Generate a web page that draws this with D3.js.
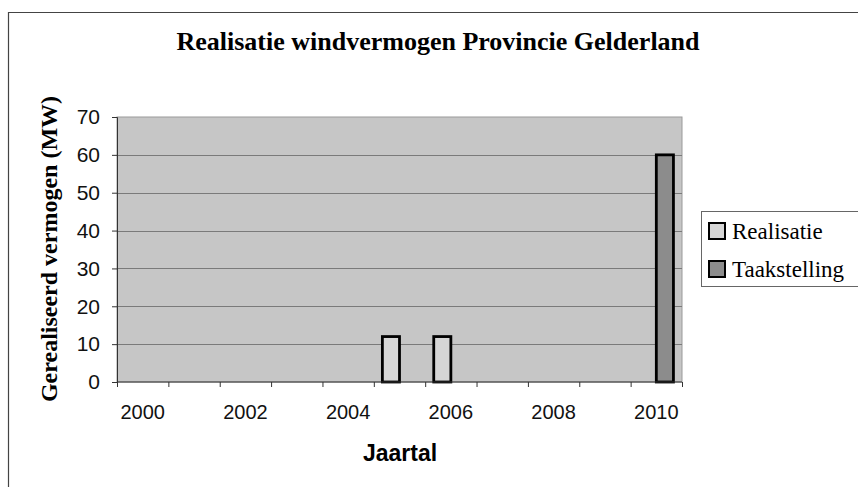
<!DOCTYPE html>
<html>
<head>
<meta charset="utf-8">
<script src="https://cdn.jsdelivr.net/npm/d3@7"></script>
<style>
  body { margin: 0; background: #fff; }
  svg { display: block; }
</style>
</head>
<body>
<div id="chart"></div>
<script>
// categories (one per year) and the two series, null = no bar
const years = ["2000","2001","2002","2003","2004","2005","2006","2007","2008","2009","2010"];
const realisatie   = [null, null, null, null, null, 12, 12, null, null, null, null];
const taakstelling = [null, null, null, null, null, null, null, null, null, null, 60];
const seriesNames = ["Realisatie", "Taakstelling"];
const seriesFill = ["#d6d6d6", "#8c8c8c"];
const yTicks = [0, 10, 20, 30, 40, 50, 60, 70];
const xLabels = ["2000", "2002", "2004", "2006", "2008", "2010"];

const W = 858, H = 487;
const plot = {left: 117, right: 682, top: 117, bottom: 382};

const svg = d3.select("#chart").append("svg")
  .attr("width", W)
  .attr("height", H);

// outer chart border (only left and top are visible in the scan)
svg.append("path")
  .attr("d", `M8.5,${H} V12.5 H${W}`)
  .attr("fill", "none")
  .attr("stroke", "#444")
  .attr("stroke-width", 1.2);

// title
svg.append("text")
  .attr("x", 438)
  .attr("y", 50)
  .attr("text-anchor", "middle")
  .attr("font-family", "Liberation Serif, Times New Roman, serif")
  .attr("font-weight", "bold")
  .attr("font-size", 26)
  .text("Realisatie windvermogen Provincie Gelderland");

const x0 = d3.scaleBand()
  .domain(years)
  .range([plot.left, plot.right])
  .padding(0);

// gap width 100% -> each bar a third of the category
const x1 = d3.scaleBand()
  .domain(seriesNames)
  .range([x0.bandwidth() / 6, x0.bandwidth() * 5 / 6]);

const y = d3.scaleLinear()
  .domain([0, 70])
  .range([plot.bottom, plot.top]);

// plot area background
svg.append("rect")
  .attr("x", plot.left)
  .attr("y", plot.top)
  .attr("width", plot.right - plot.left)
  .attr("height", plot.bottom - plot.top)
  .attr("fill", "#c6c6c6")
  .attr("stroke", "#9a9a9a");

// horizontal gridlines
svg.append("g")
  .selectAll("line")
  .data(yTicks.filter(d => d > 0 && d < 70))
  .join("line")
  .attr("x1", plot.left)
  .attr("x2", plot.right)
  .attr("y1", d => Math.round(y(d)) + 0.5)
  .attr("y2", d => Math.round(y(d)) + 0.5)
  .attr("stroke", "#7a7a7a")
  .attr("stroke-width", 1.2);

// bars
const rows = years.map((yr, i) => ({year: yr, values: [realisatie[i], taakstelling[i]]}));
const bars = [];
rows.forEach(r => {
  r.values.forEach((v, j) => {
    if (v != null) bars.push({year: r.year, series: seriesNames[j], idx: j, value: v});
  });
});

svg.append("g")
  .selectAll("rect")
  .data(bars)
  .join("rect")
  .attr("x", d => x0(d.year) + x1(d.series))
  .attr("y", d => y(d.value))
  .attr("width", x1.bandwidth())
  .attr("height", d => y(0) - y(d.value))
  .attr("fill", d => seriesFill[d.idx])
  .attr("stroke", "#000")
  .attr("stroke-width", 2.8);

// y axis
const yAxis = svg.append("g")
  .attr("transform", `translate(${plot.left},0)`)
  .call(d3.axisLeft(y).tickValues(yTicks).tickSize(5).tickPadding(12));
yAxis.selectAll("text")
  .attr("font-family", "Liberation Sans, Arial, sans-serif")
  .attr("font-size", 21)
  .attr("fill", "#111");
yAxis.selectAll("line, path").attr("stroke", "#333");

// x axis: ticks on category boundaries, labels every other year
const xAxis = svg.append("g")
  .attr("transform", `translate(0,${plot.bottom})`);
xAxis.append("line")
  .attr("x1", plot.left)
  .attr("x2", plot.right)
  .attr("stroke", "#333");
xAxis.selectAll("line.tick")
  .data(years.concat(["end"]))
  .join("line")
  .attr("class", "tick")
  .attr("x1", (d, i) => plot.left + i * x0.step() + 0.5)
  .attr("x2", (d, i) => plot.left + i * x0.step() + 0.5)
  .attr("y1", 0)
  .attr("y2", 5)
  .attr("stroke", "#333");
xAxis.selectAll("text")
  .data(xLabels)
  .join("text")
  .attr("x", d => x0(d) + x0.bandwidth() / 2)
  .attr("y", 37)
  .attr("text-anchor", "middle")
  .attr("font-family", "Liberation Sans, Arial, sans-serif")
  .attr("font-size", 20)
  .attr("fill", "#111")
  .text(d => d);

// axis titles
svg.append("text")
  .attr("x", 400)
  .attr("y", 461)
  .attr("text-anchor", "middle")
  .attr("font-family", "Liberation Sans, Arial, sans-serif")
  .attr("font-weight", "bold")
  .attr("font-size", 23)
  .text("Jaartal");

svg.append("text")
  .attr("transform", "translate(57,249) rotate(-90)")
  .attr("text-anchor", "middle")
  .attr("font-family", "Liberation Serif, Times New Roman, serif")
  .attr("font-weight", "bold")
  .attr("font-size", 24)
  .text("Gerealiseerd vermogen (MW)");

// legend
const legend = svg.append("g");
legend.append("rect")
  .attr("x", 701.5)
  .attr("y", 211.5)
  .attr("width", 170)
  .attr("height", 75)
  .attr("fill", "#fff")
  .attr("stroke", "#666");
const item = legend.selectAll("g.item")
  .data(seriesNames)
  .join("g")
  .attr("class", "item")
  .attr("transform", (d, i) => `translate(709,${223 + i * 38})`);
item.append("rect")
  .attr("width", 16)
  .attr("height", 16)
  .attr("fill", (d, i) => seriesFill[i])
  .attr("stroke", "#000")
  .attr("stroke-width", 2);
item.append("text")
  .attr("x", 23)
  .attr("y", 16)
  .attr("font-family", "Liberation Serif, Times New Roman, serif")
  .attr("font-size", 23)
  .text(d => d);
</script>
</body>
</html>
